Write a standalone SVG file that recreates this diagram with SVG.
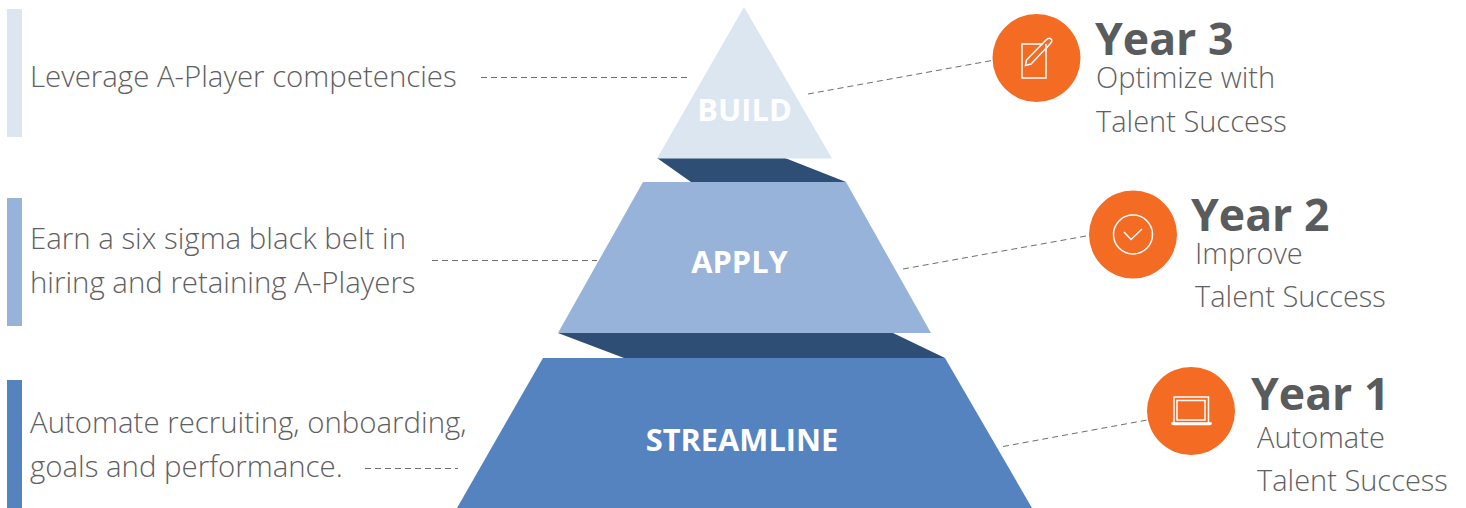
<svg xmlns="http://www.w3.org/2000/svg" width="1466" height="508" viewBox="0 0 1466 508">
<style>
text{font-family:"Open Sans","Liberation Sans",sans-serif}
.d{font-size:29px;font-weight:300;fill:#5f6062}
.e{font-size:29.400px;font-weight:300;fill:#5f6062}
.y{font-size:44.600px;font-weight:700;fill:#5a5b5d}
.l{font-size:30.800px;font-weight:700;fill:#fff;text-anchor:middle}
.c{fill:#f46b24}
.i{fill:none;stroke:#fff;stroke-width:1.500}
.dash{fill:none;stroke:#6d6e71;stroke-width:1;stroke-dasharray:6 4}
</style>
<rect width="1466" height="508" fill="#fff"/>
<g id="connectors">
<path class="dash" d="M481 77.500H690"/>
<path class="dash" d="M808 94L992 60.500"/>
<path class="dash" d="M432 260.500H597"/>
<path class="dash" d="M903 269L1086 236"/>
<path class="dash" d="M365 468.500H458"/>
<path class="dash" d="M1003 446.500L1150 419.500"/>
</g>
<g id="shadow-top"><polygon points="657,158 785,158 846,182 691,182" fill="#2f4e75"/></g>
<g id="shadow-mid"><polygon points="558,333 893,333 945,358 624,358" fill="#2f4e75"/></g>
<g id="node-build"><polygon points="744,7 832,158.500 657,158.500" fill="#dce6f1"/><text class="l" x="744.500" y="120.500">BUILD</text></g>
<g id="node-apply"><polygon points="643,182 846,182 931,333 558,333" fill="#98b3d9"/><text class="l" x="739.500" y="272.500">APPLY</text></g>
<g id="node-streamline"><polygon points="543,358 945,358 1032,508 457,508" fill="#5583bf"/><text class="l" x="742" y="450.500">STREAMLINE</text></g>
<g id="bar-3"><rect x="7" y="9" width="15" height="128" fill="#dce6f1"/><text class="e" x="30" y="87">Leverage A-Player competencies</text></g>
<g id="bar-2"><rect x="7" y="198" width="15" height="128" fill="#98b3d9"/><text class="e" x="30" y="249">Earn a six sigma black belt in</text><text class="e" x="30" y="292.500">hiring and retaining A-Players</text></g>
<g id="bar-1"><rect x="7" y="380" width="15" height="128" fill="#5583bf"/><text class="e" x="30" y="433">Automate recruiting, onboarding,</text><text class="e" x="30" y="477">goals and performance.</text></g>
<g id="year-3"><circle class="c" cx="1036.500" cy="58" r="44"/>
<path class="i" d="M1046 44V78H1022V44H1043"/>
<path class="i" d="M1026.500 60L1046 40Q1049 37 1051 39L1051 39Q1053 41 1050 44L1031 64L1025.500 65.500Z"/>
<text class="y" x="1095" y="54.500">Year 3</text><text class="d" x="1096" y="88">Optimize with</text><text class="d" x="1096" y="131.500">Talent Success</text></g>
<g id="year-2"><circle class="c" cx="1133" cy="234.500" r="44"/>
<circle class="i" cx="1133" cy="234.500" r="19.500"/><path class="i" d="M1124 232L1131 239.500L1142 229"/>
<text class="y" x="1191" y="230.500">Year 2</text><text class="d" x="1195" y="264">Improve</text><text class="d" x="1195" y="307">Talent Success</text></g>
<g id="year-1"><circle class="c" cx="1191" cy="411" r="44"/>
<path class="i" d="M1174 423V397H1208.500V423M1177 400.500H1205V420H1177ZM1172 423H1211V424Q1211 424.500 1209 424.500H1174Q1172 424.500 1172 423Z"/>
<text class="y" x="1251" y="410">Year 1</text><text class="d" x="1257" y="447.500">Automate</text><text class="d" x="1257" y="490.500">Talent Success</text></g>
</svg>
